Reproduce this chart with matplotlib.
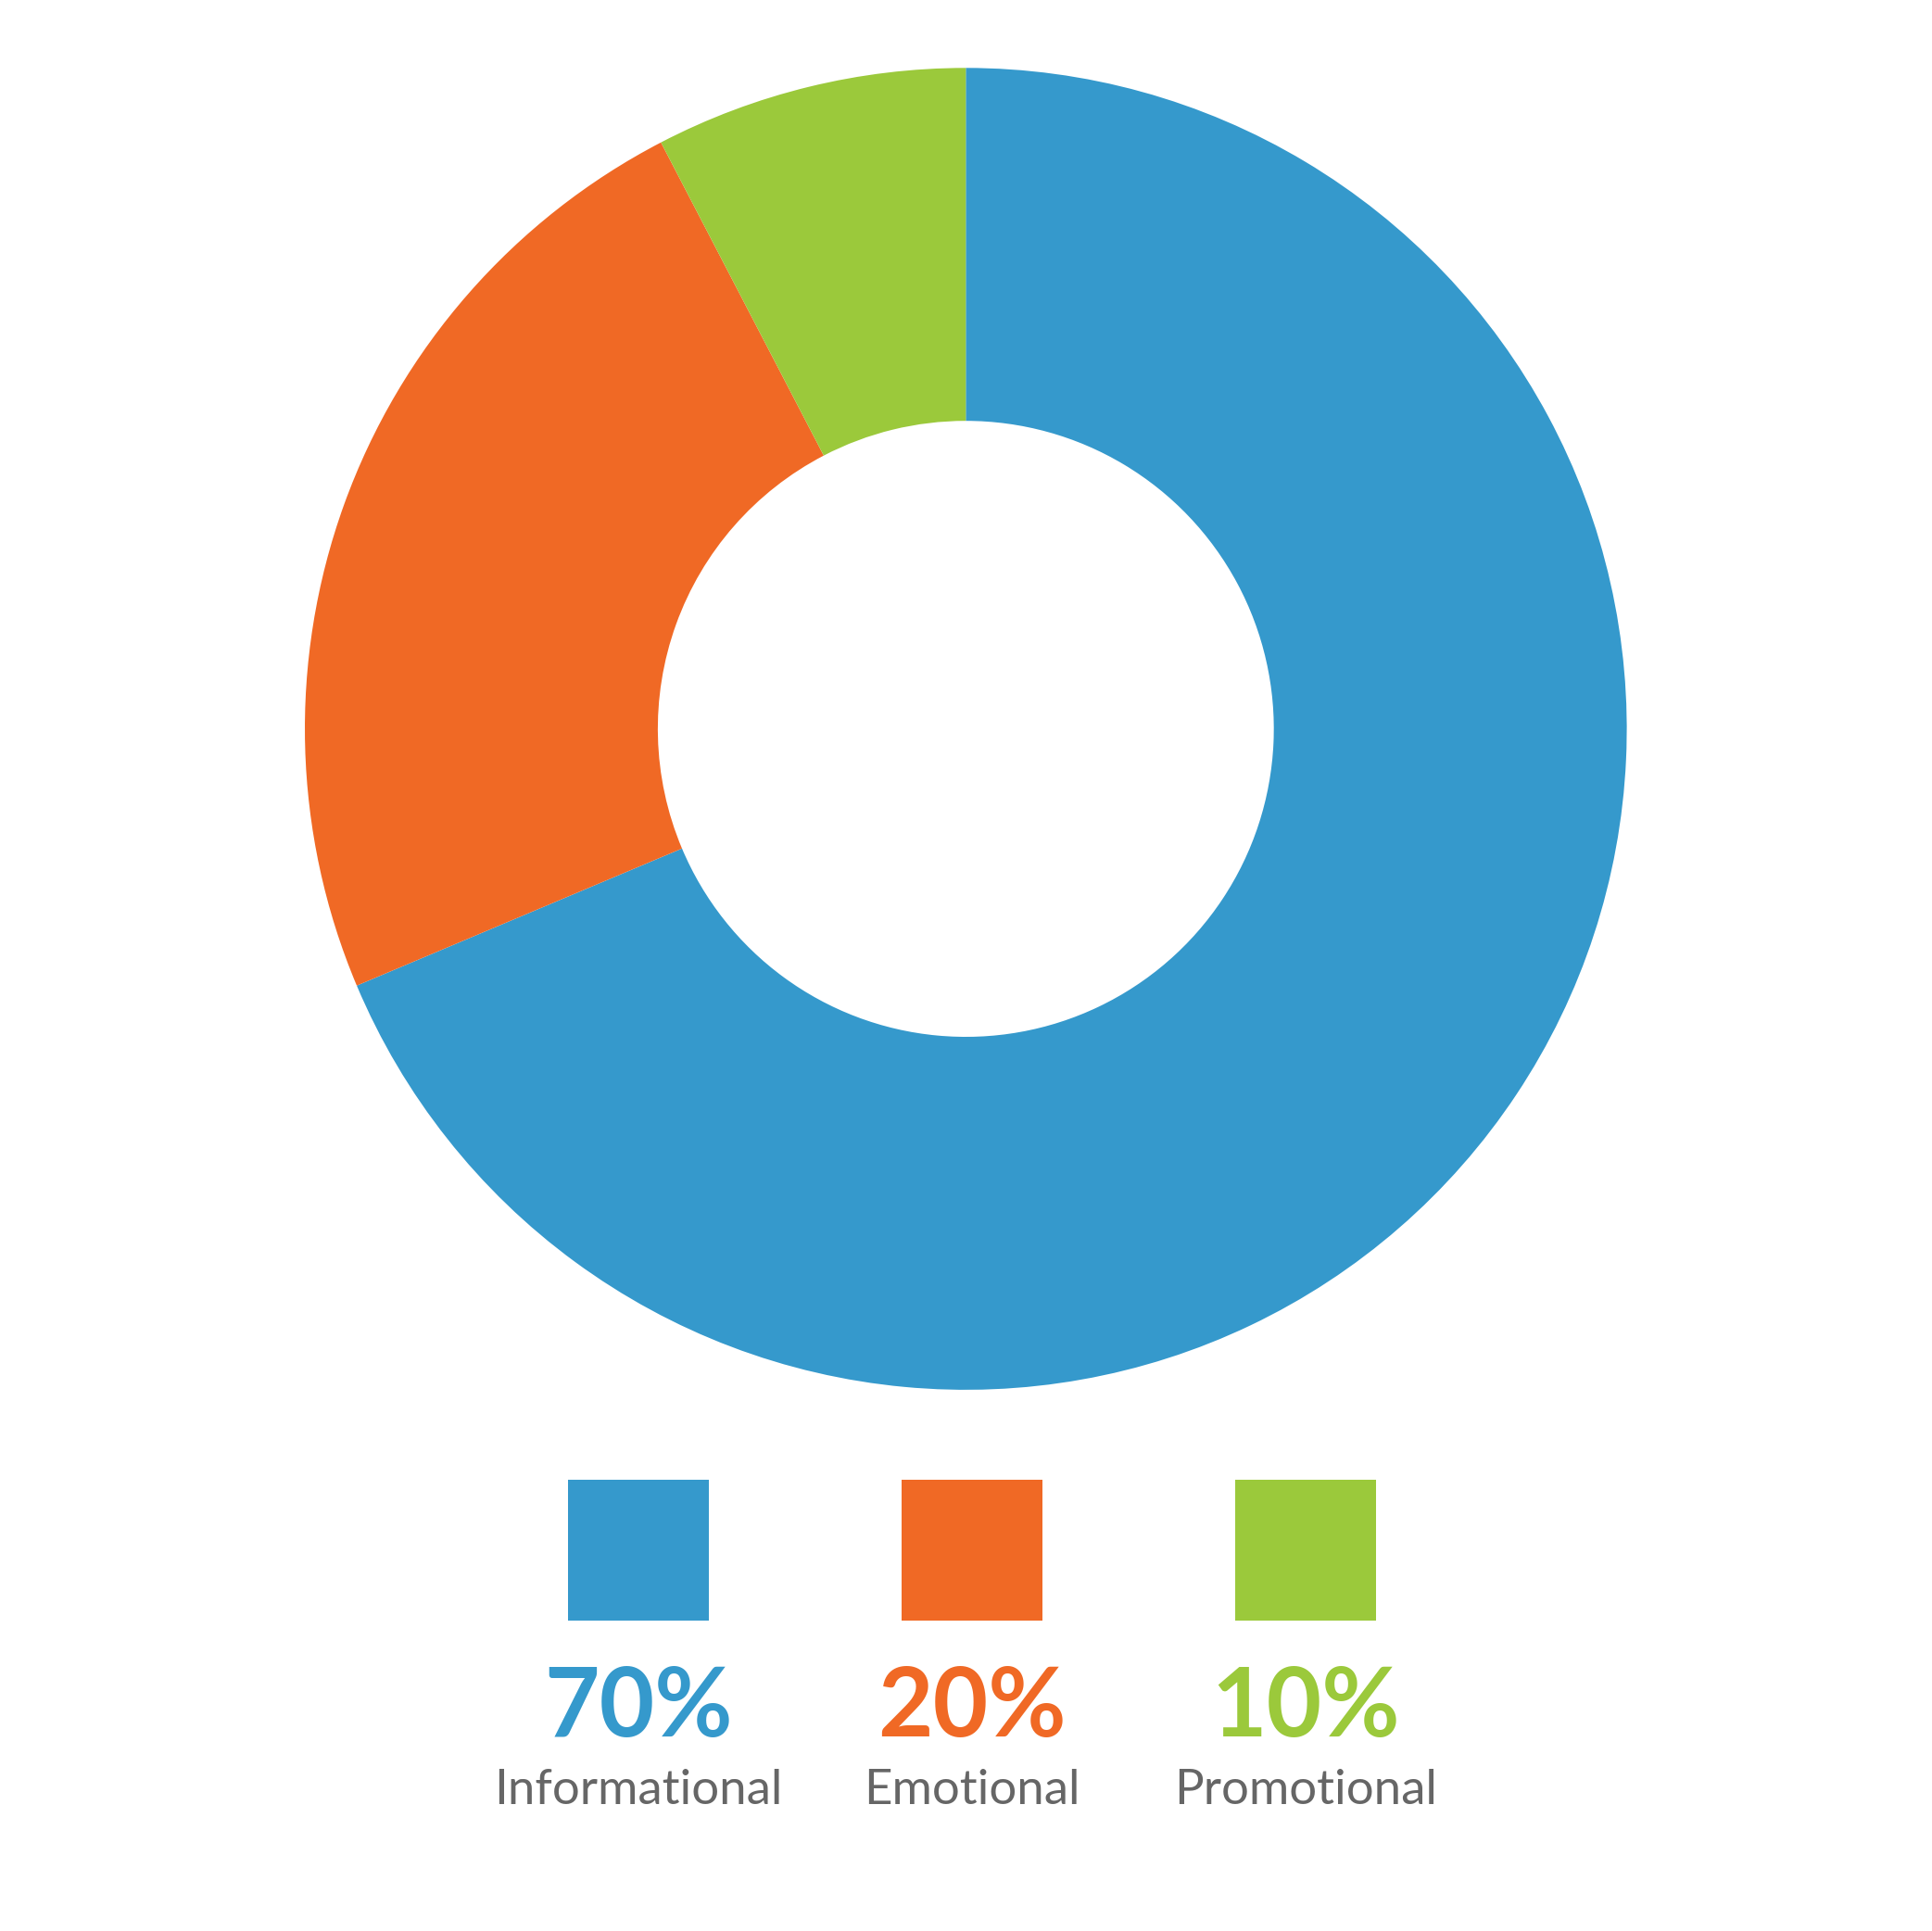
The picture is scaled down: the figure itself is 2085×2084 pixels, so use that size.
import matplotlib.pyplot as plt
from matplotlib.patches import Rectangle

categories = ['Informational', 'Emotional', 'Promotional']
shares = [68.65, 23.72, 7.63]
pct_labels = ['70%', '20%', '10%']
colors = ['#3599CC', '#F06925', '#9BC93B']
text_gray = '#666666'

W, H = 2085, 2084
fig = plt.figure(figsize=(W / 100, H / 100), dpi=100)

# donut: centre (1042, 787) px from top-left, outer radius 713 px
cx, cy, r_out = 1042.3, 786.6, 713.3
ax = fig.add_axes([(cx - r_out) / W, 1 - (cy + r_out) / H, 2 * r_out / W, 2 * r_out / H])
ax.pie(shares, colors=colors, startangle=90, counterclock=False, radius=1,
       wedgeprops=dict(width=0.534, linewidth=0))
ax.set_xlim(-1, 1)
ax.set_ylim(-1, 1)
ax.set_aspect('equal')
ax.axis('off')

# legend drawn in pixel coordinates on an overlay axes
lg = fig.add_axes([0, 0, 1, 1])
lg.set_xlim(0, W)
lg.set_ylim(H, 0)
lg.axis('off')

box = 152
box_top = 1597
gap = 360
mid = 1049
for i, (name, pct, c) in enumerate(zip(categories, pct_labels, colors)):
    x = mid + (i - 1) * gap
    lg.add_patch(Rectangle((x - box / 2, box_top), box, box, color=c, lw=0))
    lg.text(x, 1874, pct, color=c, fontsize=74, fontweight='bold',
            family='Lato', ha='center', va='baseline')
    lg.text(x, 1947, name, color=text_gray, fontsize=38,
            family='Lato', ha='center', va='baseline')

fig.savefig('out.png', dpi=100, facecolor='white')
